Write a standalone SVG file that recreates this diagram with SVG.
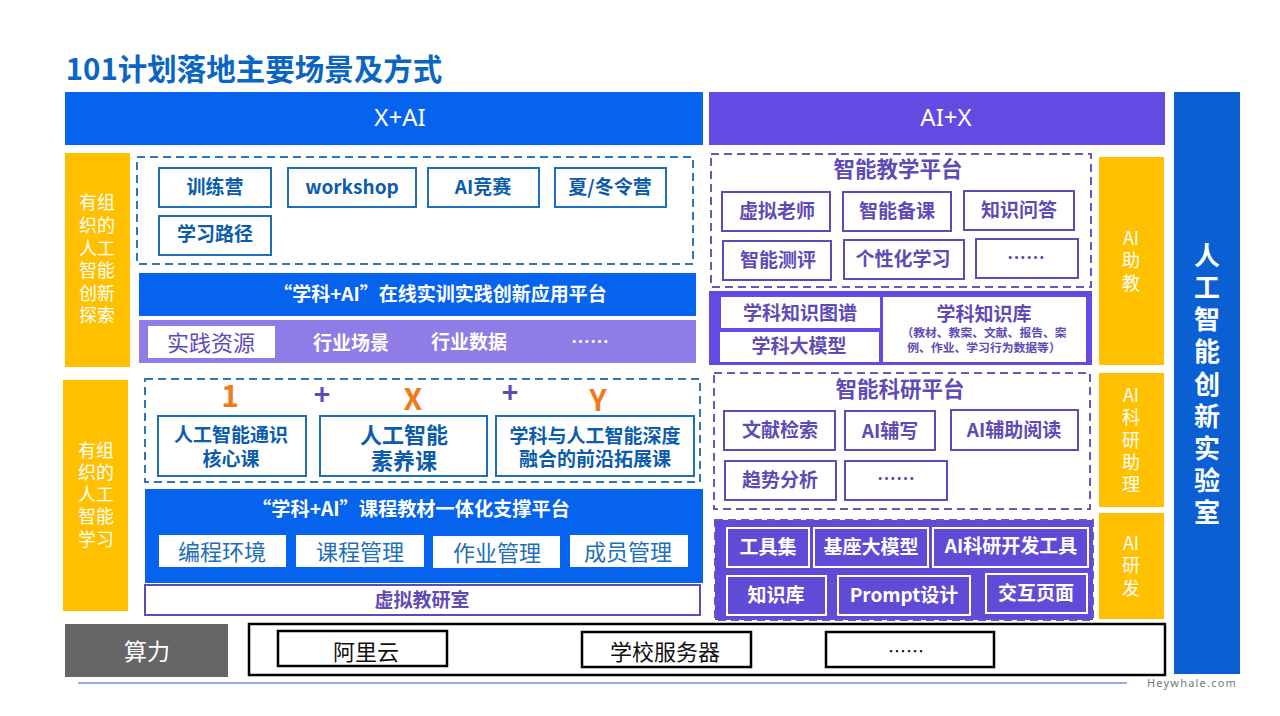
<svg xmlns="http://www.w3.org/2000/svg" width="1280" height="716" viewBox="0 0 1280 716">
<style>
text{font-family:"Noto Sans CJK SC","Noto Sans",sans-serif;text-anchor:middle;dominant-baseline:central;transform:translateY(-1.5px)}
.bb{fill:#fff;stroke:#1d6fb8;stroke-width:2}
.pb{fill:#fff;stroke:#5f4bb6;stroke-width:2}
.wb{fill:#5f4bd6;stroke:#fff;stroke-width:2}
.kb{fill:#fff;stroke:#000;stroke-width:2.5}
.dbl{fill:#fff;stroke:#2e75b6;stroke-width:2;stroke-dasharray:8 5}
.dpl{fill:#fff;stroke:#6a55b8;stroke-width:2;stroke-dasharray:8 5}
.y{fill:#ffc000}
.tb{fill:#0b5cad;font-size:19px;font-weight:700}
.tp{fill:#5f4bb6;font-size:19px;font-weight:700}
.tw{fill:#fff;font-size:19px;font-weight:700}
.ty{fill:#fff;font-size:18px}
.tf{fill:#1d6fb8;font-size:22px}
.tk{fill:#111;font-size:22px}
.hd{font-size:21.5px}
.op{fill:#5f4bb6;font-size:28px;font-weight:700}
.or{fill:#ed7d1c;font-size:30px;font-weight:700}
.lat{fill:#fff;font-size:24px;font-family:"Noto Sans",sans-serif}
.lb{fill:#fff;font-size:26px;font-weight:700}
</style>
<rect width="1280" height="716" fill="#fff"/>
<text id="title" x="254" y="68" style="font-size:29.5px;font-weight:700;fill:#0b66c3">101计划落地主要场景及方式</text>

<g id="x-ai"><rect x="65" y="92" width="638" height="53" fill="#0563ee"/><text class="lat" x="400" y="118">X+AI</text></g>
<g id="ai-x"><rect x="709" y="92" width="456" height="53" fill="#624ae2"/><text class="lat" x="946" y="118">AI+X</text></g>
<g id="lab"><rect x="1174" y="92" width="66" height="582" fill="#0a5fd3"/>
<text class="lb"><tspan x="1207" y="254">人</tspan><tspan x="1207" y="286">工</tspan><tspan x="1207" y="318">智</tspan><tspan x="1207" y="350">能</tspan><tspan x="1207" y="383">创</tspan><tspan x="1207" y="415">新</tspan><tspan x="1207" y="447">实</tspan><tspan x="1207" y="479">验</tspan><tspan x="1207" y="511">室</tspan></text></g>

<g id="explore"><rect class="y" x="65" y="153" width="65" height="214"/>
<text class="ty"><tspan x="97" y="202">有组</tspan><tspan x="97" y="225">织的</tspan><tspan x="97" y="248">人工</tspan><tspan x="97" y="270">智能</tspan><tspan x="97" y="293">创新</tspan><tspan x="97" y="315">探索</tspan></text></g>
<g id="learn"><rect class="y" x="63" y="380" width="65" height="231"/>
<text class="ty"><tspan x="96" y="450">有组</tspan><tspan x="96" y="472">织的</tspan><tspan x="96" y="494">人工</tspan><tspan x="96" y="516">智能</tspan><tspan x="96" y="539">学习</tspan></text></g>

<g id="camp"><rect class="dbl" x="137" y="157" width="556" height="107"/>
<rect class="bb" x="159" y="168" width="112" height="39"/><text class="tb" x="215" y="187">训练营</text>
<rect class="bb" x="288" y="168" width="128" height="39"/><text class="tb" x="352" y="187">workshop</text>
<rect class="bb" x="428" y="168" width="111" height="39"/><text class="tb" x="483" y="187">AI竞赛</text>
<rect class="bb" x="555" y="168" width="111" height="39"/><text class="tb" x="610" y="187">夏/冬令营</text>
<rect class="bb" x="159" y="216" width="112" height="39"/><text class="tb" x="215" y="234">学习路径</text></g>

<g id="platform1"><rect x="139" y="273" width="557" height="43" fill="#0563ee"/><text class="tw" x="440" y="294">“学科+AI”在线实训实践创新应用平台</text></g>
<g id="resource"><rect x="139" y="320" width="557" height="43" fill="#8f7ce6"/><rect x="148" y="326" width="127" height="32" fill="#fff"/><text x="211" y="342" fill="#5f4bb6" font-size="22">实践资源</text>
<text class="tw" x="351" y="343">行业场景</text><text class="tw" x="469" y="342">行业数据</text><text class="tw" x="590" y="342">……</text></g>

<g id="oneXY"><rect class="dbl" x="145" y="379" width="555" height="103"/>
<text class="or" x="230" y="395">1</text><text class="op" x="322" y="394">+</text><text class="or" x="413" y="398">X</text><text class="op" x="510" y="392">+</text><text class="or" x="598" y="399">Y</text>
<rect class="bb" x="158" y="416" width="148" height="60"/><text class="tb"><tspan x="231" y="434">人工智能通识</tspan><tspan x="231" y="458">核心课</tspan></text>
<rect class="bb" x="320" y="416" width="167" height="60"/><text class="tb" style="font-size:22px"><tspan x="404" y="434">人工智能</tspan><tspan x="404" y="460">素养课</tspan></text>
<rect class="bb" x="496" y="416" width="198" height="60"/><text class="tb"><tspan x="595" y="435">学科与人工智能深度</tspan><tspan x="595" y="458">融合的前沿拓展课</tspan></text></g>

<g id="platform2"><rect x="145" y="489" width="558" height="94" fill="#0563ee"/><text class="tw" x="411" y="509" style="font-size:19.2px">“学科+AI”课程教材一体化支撑平台</text>
<rect x="159" y="535" width="127" height="32" fill="#fff"/><text class="tf" x="222" y="551">编程环境</text>
<rect x="296" y="535" width="128" height="32" fill="#fff"/><text class="tf" x="360" y="551">课程管理</text>
<rect x="433" y="536" width="127" height="32" fill="#fff"/><text class="tf" x="497" y="552">作业管理</text>
<rect x="570" y="535" width="118" height="32" fill="#fff"/><text class="tf" x="628" y="551">成员管理</text></g>
<g id="virtual"><rect class="pb" x="145" y="585" width="555" height="30"/><text class="tp" x="422" y="600">虚拟教研室</text></g>

<g id="compute"><rect x="65" y="624" width="163" height="53" fill="#666"/><text x="147" y="651" fill="#fff" font-size="23">算力</text>
<rect class="kb" x="249" y="624" width="916" height="51"/>
<rect class="kb" x="278" y="631" width="169" height="35"/><text class="tk" x="366" y="651">阿里云</text>
<rect class="kb" x="582" y="632" width="169" height="35"/><text class="tk" x="665" y="651">学校服务器</text>
<rect class="kb" x="826" y="632" width="168" height="35"/><text class="tk" x="906" y="651" style="font-size:18px">……</text></g>

<g id="teach"><rect class="dpl" x="711" y="154" width="380" height="133"/><text class="tp hd" x="898" y="169">智能教学平台</text>
<rect class="pb" x="722" y="192" width="108" height="39"/><text class="tp" x="777" y="211">虚拟老师</text>
<rect class="pb" x="843" y="192" width="108" height="39"/><text class="tp" x="897" y="211">智能备课</text>
<rect class="pb" x="964" y="191" width="110" height="39"/><text class="tp" x="1019" y="210">知识问答</text>
<rect class="pb" x="723" y="241" width="108" height="39"/><text class="tp" x="778" y="260">智能测评</text>
<rect class="pb" x="844" y="240" width="120" height="39"/><text class="tp" x="903" y="259">个性化学习</text>
<rect class="pb" x="976" y="239" width="102" height="39"/><text class="tp" x="1026" y="258">……</text></g>

<g id="knowledge"><rect x="709" y="291" width="383" height="74" fill="#624ae2"/>
<rect x="721" y="297" width="159" height="31" fill="#fff"/><text class="tp" x="800" y="313">学科知识图谱</text>
<rect x="720" y="332" width="159" height="30" fill="#fff"/><text class="tp" x="799" y="346">学科大模型</text>
<rect x="883" y="297" width="203" height="65" fill="#fff"/><text class="tp" x="984" y="314">学科知识库</text>
<text fill="#5f4bb6" font-size="11.8" font-weight="700"><tspan x="984" y="332">（教材、教案、文献、报告、案</tspan><tspan x="984" y="347">例、作业、学习行为数据等）</tspan></text></g>

<g id="research"><rect class="dpl" x="714" y="373" width="376" height="136"/><text class="tp hd" x="900" y="389">智能科研平台</text>
<rect class="pb" x="724" y="411" width="111" height="39"/><text class="tp" x="780" y="430">文献检索</text>
<rect class="pb" x="845" y="411" width="90" height="39"/><text class="tp" x="890" y="431">AI辅写</text>
<rect class="pb" x="951" y="410" width="127" height="40"/><text class="tp" x="1014" y="430">AI辅助阅读</text>
<rect class="pb" x="725" y="461" width="111" height="39"/><text class="tp" x="780" y="480">趋势分析</text>
<rect class="pb" x="845" y="461" width="102" height="39"/><text class="tp" x="896" y="479">……</text></g>

<g id="rnd"><rect x="715" y="520" width="378" height="100" fill="#5f4bd6" stroke="#6a55b8" stroke-width="2" stroke-dasharray="8 5"/>
<rect class="wb" x="727" y="528" width="82" height="39"/><text class="tw" x="768" y="547">工具集</text>
<rect class="wb" x="814" y="528" width="114" height="39"/><text class="tw" x="871" y="547">基座大模型</text>
<rect class="wb" x="933" y="528" width="155" height="39"/><text class="tw" x="1011" y="546">AI科研开发工具</text>
<rect class="wb" x="727" y="576" width="99" height="39"/><text class="tw" x="776" y="595">知识库</text>
<rect class="wb" x="838" y="576" width="132" height="39"/><text class="tw" x="904" y="595">Prompt设计</text>
<rect class="wb" x="986" y="574" width="101" height="39"/><text class="tw" x="1036" y="593">交互页面</text></g>

<g id="assist"><rect class="y" x="1099" y="157" width="65" height="208"/><text class="ty"><tspan x="1131" y="238">AI</tspan><tspan x="1131" y="260">助</tspan><tspan x="1131" y="283">教</tspan></text></g>
<g id="assist2"><rect class="y" x="1099" y="373" width="65" height="134"/><text class="ty"><tspan x="1131" y="395">AI</tspan><tspan x="1131" y="417">科</tspan><tspan x="1131" y="440">研</tspan><tspan x="1131" y="462">助</tspan><tspan x="1131" y="484">理</tspan></text></g>
<g id="dev"><rect class="y" x="1099" y="513" width="65" height="106"/><text class="ty"><tspan x="1131" y="543">AI</tspan><tspan x="1131" y="565">研</tspan><tspan x="1131" y="588">发</tspan></text></g>

<g id="footer"><line x1="78" y1="683" x2="1127" y2="683" stroke="#6f93d8" stroke-width="1.5"/><text x="1192" y="684" fill="#777" font-size="11" letter-spacing="1.2" style="font-family:'Noto Sans',sans-serif">Heywhale.com</text></g>
</svg>
